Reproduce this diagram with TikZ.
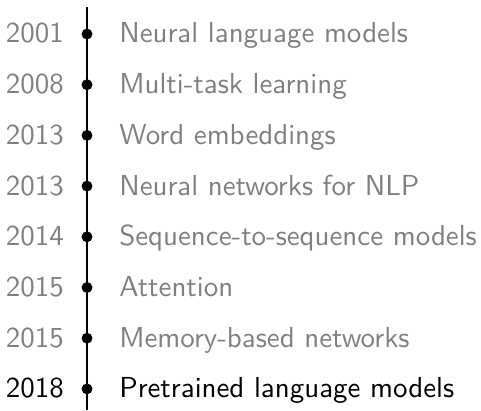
\documentclass[tikz,border=0pt]{standalone}
\usepackage{fontspec}
\newfontfamily\sanstext{lmsans10-regular.otf}
\definecolor{muted}{gray}{0.5}
\begin{document}
\begin{tikzpicture}[x=0.75pt,y=-0.75pt,
    font=\sanstext\fontsize{21.7}{26}\selectfont,
    spine/.style={line width=2pt,black},
    event/.style={circle,fill=black,inner sep=0pt,minimum size=8.2pt},
    year/.style={anchor=base east,inner sep=0pt,text=muted},
    topic/.style={anchor=base west,inner sep=0pt,text=muted},
    current/.style={text=black}]
  \useasboundingbox (0,0) rectangle (481,410);
  \coordinate (top) at (87,7);
  \coordinate (bottom) at (87,410);
  \draw[spine] (top) -- (bottom);
  \foreach \i/\yr/\txt/\st in {
      0/2001/Neural language models/,
      1/2008/Multi-task learning/,
      2/2013/Word embeddings/,
      3/2013/Neural networks for NLP/,
      4/2014/Sequence-to-sequence models/,
      5/2015/Attention/,
      6/2015/Memory-based networks/,
      7/2018/Pretrained language models/current} {
    \pgfmathsetmacro{\yy}{34+50.7*\i}
    \node[event] (d\i) at (87,\yy) {};
    \node[year,\st] (y\i) at (64,\yy+9) {\yr};
    \node[topic,\st] (t\i) at (119,\yy+9) {\txt};
  }
\end{tikzpicture}
\end{document}
